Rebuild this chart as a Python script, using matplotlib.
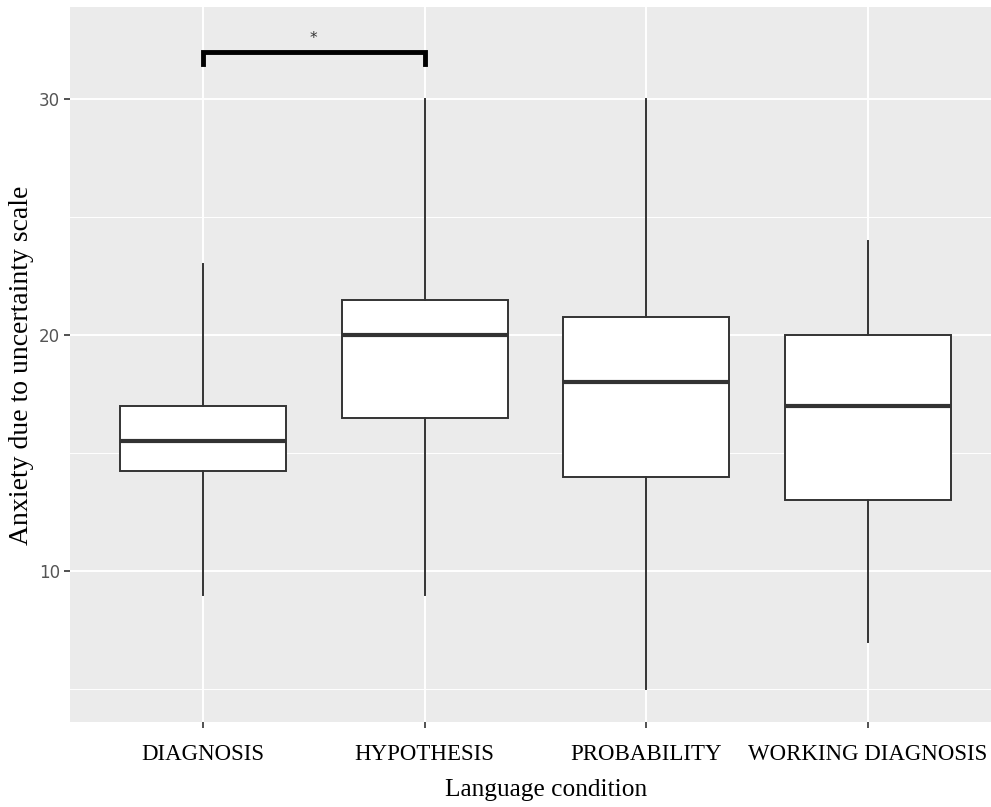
import matplotlib
matplotlib.use("Agg")
import matplotlib.pyplot as plt

# Summary statistics per language condition
conditions = ["DIAGNOSIS", "HYPOTHESIS", "PROBABILITY", "WORKING DIAGNOSIS"]
whisker_low = [9, 9, 5, 7]
q1 = [14.25, 16.5, 14, 13]
median = [15.5, 20, 18, 17]
q3 = [17, 21.5, 20.75, 20]
whisker_high = [23, 30, 30, 24]

y_ticks = [10, 20, 30]
y_minor = [5, 15, 25]

# significance bracket between the first two conditions
bracket_pair = (0, 1)
bracket_y = 32.0
bracket_drop = 0.5
bracket_label = "*"

fig = plt.figure(figsize=(9.91, 8.07), dpi=100)
ax = fig.add_axes([70 / 991, 1 - 722 / 807, 1 - 70 / 991, 715 / 807])
ax.set_facecolor("#EBEBEB")

stats = []
for i, name in enumerate(conditions):
    stats.append(dict(label=name, whislo=whisker_low[i], q1=q1[i], med=median[i],
                      q3=q3[i], whishi=whisker_high[i], fliers=[]))

ax.bxp(stats, positions=range(len(conditions)), widths=0.75, patch_artist=True,
       showcaps=False, showfliers=False,
       boxprops=dict(facecolor="white", edgecolor="#333333", linewidth=1.4),
       whiskerprops=dict(color="#333333", linewidth=1.4),
       medianprops=dict(color="#333333", linewidth=3.0),
       zorder=3)

ax.set_xlim(-0.6, 3.555)
ax.set_ylim(3.6, 33.9)

# grid
ax.set_yticks(y_ticks)
ax.set_yticks(y_minor, minor=True)
ax.set_xticks(range(len(conditions)))
ax.grid(True, which="major", color="white", linewidth=1.4, zorder=0)
ax.grid(True, which="minor", axis="y", color="white", linewidth=0.7, zorder=0)
ax.set_axisbelow(True)
for s in ax.spines.values():
    s.set_visible(False)

ax.set_xticklabels(conditions, family="Liberation Serif", fontsize=16.5, color="black")
ax.tick_params(axis="x", which="major", length=4, width=1.2, color="#333333", pad=12)
ax.tick_params(axis="y", which="major", length=4, width=1.2, color="#333333",
               labelsize=12, labelcolor="#555555", pad=3)
ax.tick_params(axis="y", which="minor", length=0)

# axis titles
fig.text(546 / 991, 1 - 790 / 807, "Language condition", family="Liberation Serif",
         fontsize=18.3, ha="center", va="center")
fig.text(22 / 991, 1 - 365 / 807, "Anxiety due to uncertainty scale",
         family="Liberation Serif", fontsize=20, rotation=90, ha="center", va="center")

# significance bracket
x0, x1 = bracket_pair
ax.plot([x0, x0, x1, x1], [bracket_y - bracket_drop, bracket_y, bracket_y, bracket_y - bracket_drop],
        color="black", linewidth=3.5, solid_joinstyle="miter", zorder=4)
ax.text((x0 + x1) / 2, bracket_y + 0.25, bracket_label, ha="center", va="bottom",
        fontsize=11, color="#333333")

fig.savefig("out.png", dpi=100, facecolor="white")
